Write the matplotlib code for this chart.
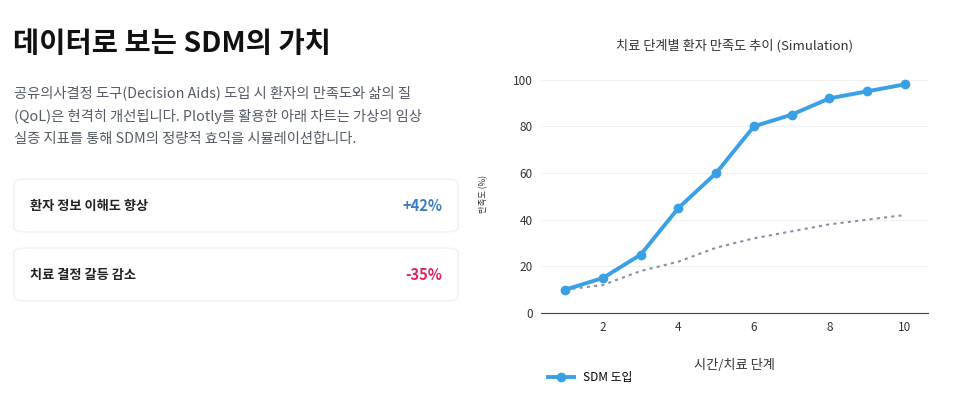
import matplotlib
matplotlib.use("Agg")
import matplotlib.pyplot as plt
from matplotlib.patches import FancyBboxPatch

plt.rcParams['font.family'] = ['Noto Sans CJK KR', 'DejaVu Sans']

stages = [1, 2, 3, 4, 5, 6, 7, 8, 9, 10]
sdm = [10, 15, 25, 45, 60, 80, 85, 92, 95, 98]
baseline = [10, 12, 18, 22, 28, 32, 35, 38, 40, 42]
yticks = [0, 20, 40, 60, 80, 100]
xticks = [2, 4, 6, 8, 10]
cards = [("환자 정보 이해도 향상", "+42%", "#3b7dc4"), ("치료 결정 갈등 감소", "-35%", "#e0245e")]

W, H = 975, 411
fig = plt.figure(figsize=(W/100, H/100), dpi=100)
fig.patch.set_facecolor('white')

def fx(px): return px / W
def fy(py): return 1 - py / H

fig.text(fx(13), fy(44), "데이터로 보는 SDM의 가치", fontsize=20.5, fontweight='bold', color='#111111', va='center')
desc = ["공유의사결정 도구(Decision Aids) 도입 시 환자의 만족도와 삶의 질",
        "(QoL)은 현격히 개선됩니다. Plotly를 활용한 아래 차트는 가상의 임상",
        "실증 지표를 통해 SDM의 정량적 효익을 시뮬레이션합니다."]
for i, line in enumerate(desc):
    fig.text(fx(14), fy(93 + i*23), line, fontsize=10.3, color='#555b66', va='center')

for i, (lab, val, col) in enumerate(cards):
    top = 179 + i*69
    box = FancyBboxPatch((fx(14), fy(top+53)), fx(444), 53/H,
                         boxstyle="round,pad=0,rounding_size=0.012",
                         transform=fig.transFigure, facecolor='white',
                         edgecolor='#eef1f5', linewidth=1)
    fig.patches.append(box)
    fig.text(fx(30), fy(top+27), lab, fontsize=9.5, fontweight='bold', color='#222222', va='center')
    fig.text(fx(442), fy(top+27), val, fontsize=10.5, fontweight='bold', color=col, va='center', ha='right')

ax = fig.add_axes([fx(541), fy(313), fx(928-541), (313-75)/H])
ax.plot(stages, baseline, color='#8a8fa8', linestyle=(0, (1.5, 2)), linewidth=1.5)
ax.plot(stages, sdm, color='#3aa0e6', linewidth=2.8, marker='o', markersize=6, label='SDM 도입')
ax.set_xlim(0.36, 10.61)
ax.set_ylim(0, 102)
ax.set_yticks(yticks)
ax.set_xticks(xticks)
ax.grid(axis='y', color='#f0f0f0', linewidth=0.8)
for s in ['top', 'right', 'left']:
    ax.spines[s].set_visible(False)
ax.spines['bottom'].set_color('#444444')
ax.tick_params(length=0, labelsize=8.5, colors='#333333', pad=6)
ax.set_axisbelow(True)
ax.set_xlabel("시간/치료 단계", fontsize=9.5, color='#333333', labelpad=18)
ax.set_ylabel("만족도 (%)", fontsize=6, color='#333333', labelpad=18)
ax.set_title("치료 단계별 환자 만족도 추이 (Simulation)", fontsize=9.5, color='#333333', pad=18)
ax.legend(loc='upper left', bbox_to_anchor=(-0.01, -0.2), frameon=False, fontsize=8.5, handlelength=2.2)

fig.savefig("out.png", dpi=100)
